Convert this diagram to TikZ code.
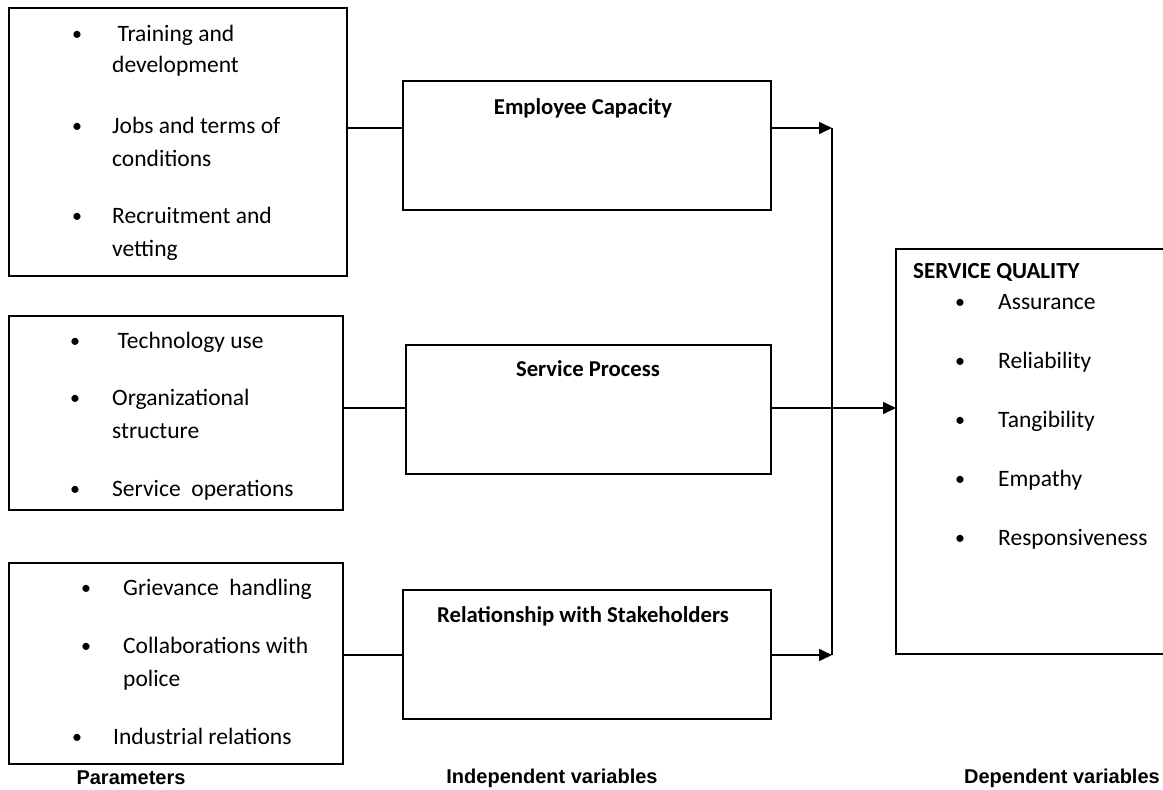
\documentclass[tikz,border=0pt]{standalone}
\usepackage{fontspec}
\setmainfont{Carlito}
\newfontfamily\arialfont{Liberation Sans}
\usetikzlibrary{arrows.meta}
\tikzset{
  box/.style={draw, line width=1.3pt, rectangle, inner sep=0pt},
  txt/.style={anchor=west, inner sep=0pt, font=\fontsize{23.5}{28}\selectfont, text height=16pt, text depth=5pt},
  bul/.style={anchor=center, inner sep=0pt, font=\fontsize{20}{24}\selectfont},
  ttl/.style={anchor=center, inner sep=0pt, font=\fontsize{22.7}{27}\selectfont\bfseries},
  lbl/.style={anchor=center, inner sep=0pt, font=\arialfont\bfseries\fontsize{20}{24}\selectfont},
  wire/.style={line width=1.3pt},
  arr/.style={line width=1.6pt, -{Triangle[length=13pt,width=12pt]}},
}
\begin{document}
\begin{tikzpicture}[x=1pt,y=-1pt]
\useasboundingbox (0,0) rectangle (1163,790);
% parameter boxes
\node[box, minimum width=338, minimum height=268] (p1) at (178,142) {};
\node[box, minimum width=334, minimum height=194] (p2) at (176,413) {};
\node[box, minimum width=334, minimum height=201] (p3) at (176,663.5) {};
% variable boxes
\node[box, minimum width=368, minimum height=129] (v1) at (587,145.5) {};
\node[box, minimum width=365, minimum height=129] (v2) at (588.5,409.5) {};
\node[box, minimum width=368, minimum height=129] (v3) at (587,654.5) {};
% service quality box (open on the right)
\coordinate (sqtl) at (896,249);
\coordinate (sqbl) at (896,654);
\coordinate (sqtr) at (1163,249);
\coordinate (sqbr) at (1163,654);
\draw[wire] (sqtr) -- (sqtl) -- (sqbl) -- (sqbr);
% connector rows
\coordinate (r1) at (0,128);
\coordinate (r2) at (0,408);
\coordinate (r3) at (0,655);
\coordinate (bt) at (832,128);
\coordinate (bb) at (832,655);
\draw[wire] (p1.east |- r1) -- (v1.west |- r1);
\draw[wire] (p2.east |- r2) -- (v2.west |- r2);
\draw[wire] (p3.east |- r3) -- (v3.west |- r3);
\draw[wire] (bt) -- (bb);
\draw[arr] (v1.east |- r1) -- (bt);
\draw[arr] (v3.east |- r3) -- (bb);
\draw[arr] (v2.east |- r2) -- (sqtl |- r2);
% parameter texts
\node[bul] (b11) at (77,36) {•};
\node[txt] (t11) at (112,36) {\ Training and};
\node[txt] (t12) at (112,67) {development};
\node[bul] (b12) at (77,128) {•};
\node[txt] (t13) at (112,128) {Jobs and terms of};
\node[txt] (t14) at (112,161) {conditions};
\node[bul] (b13) at (77,218) {•};
\node[txt] (t15) at (112,218) {Recruitment and};
\node[txt] (t16) at (112,251) {vetting};
\node[bul] (b21) at (75,343) {•};
\node[txt] (t21) at (112,343) {\ Technology use};
\node[bul] (b22) at (75,400) {•};
\node[txt] (t22) at (112,400) {Organizational};
\node[txt] (t23) at (112,433) {structure};
\node[bul] (b23) at (75,491) {•};
\node[txt] (t24) at (112,491) {Service\ \ operations};
\node[bul] (b31) at (86,590) {•};
\node[txt] (t31) at (123,590) {Grievance\ \ handling};
\node[bul] (b32) at (86,648) {•};
\node[txt] (t32) at (123,648) {Collaborations with};
\node[txt] (t33) at (123,681) {police};
\node[bul] (b33) at (77,739) {•};
\node[txt] (t34) at (113,739) {Industrial relations};
% variable titles
\node[ttl] (h1) at (583,108) {Employee Capacity};
\node[ttl] (h2) at (588,369) {Service Process};
\node[ttl] (h3) at (583,616) {Relationship with Stakeholders};
% service quality texts
\node[txt, font=\fontsize{23}{27}\selectfont\bfseries] (sq) at (913,273) {SERVICE QUALITY};
\node[bul] (s1b) at (960,304) {•};
\node[txt] (s1) at (998,304) {Assurance};
\node[bul] (s2b) at (960,363) {•};
\node[txt] (s2) at (998,363) {Reliability};
\node[bul] (s3b) at (960,422) {•};
\node[txt] (s3) at (998,422) {Tangibility};
\node[bul] (s4b) at (960,481) {•};
\node[txt] (s4) at (998,481) {Empathy};
\node[bul] (s5b) at (960,540) {•};
\node[txt] (s5) at (998,540) {Responsiveness};
% bottom labels
\node[lbl] (l1) at (131,778) {Parameters};
\node[lbl] (l2) at (552,778) {Independent variables};
\node[lbl, anchor=east] (l3) at (1160,778) {Dependent variables};
\end{tikzpicture}
\end{document}
